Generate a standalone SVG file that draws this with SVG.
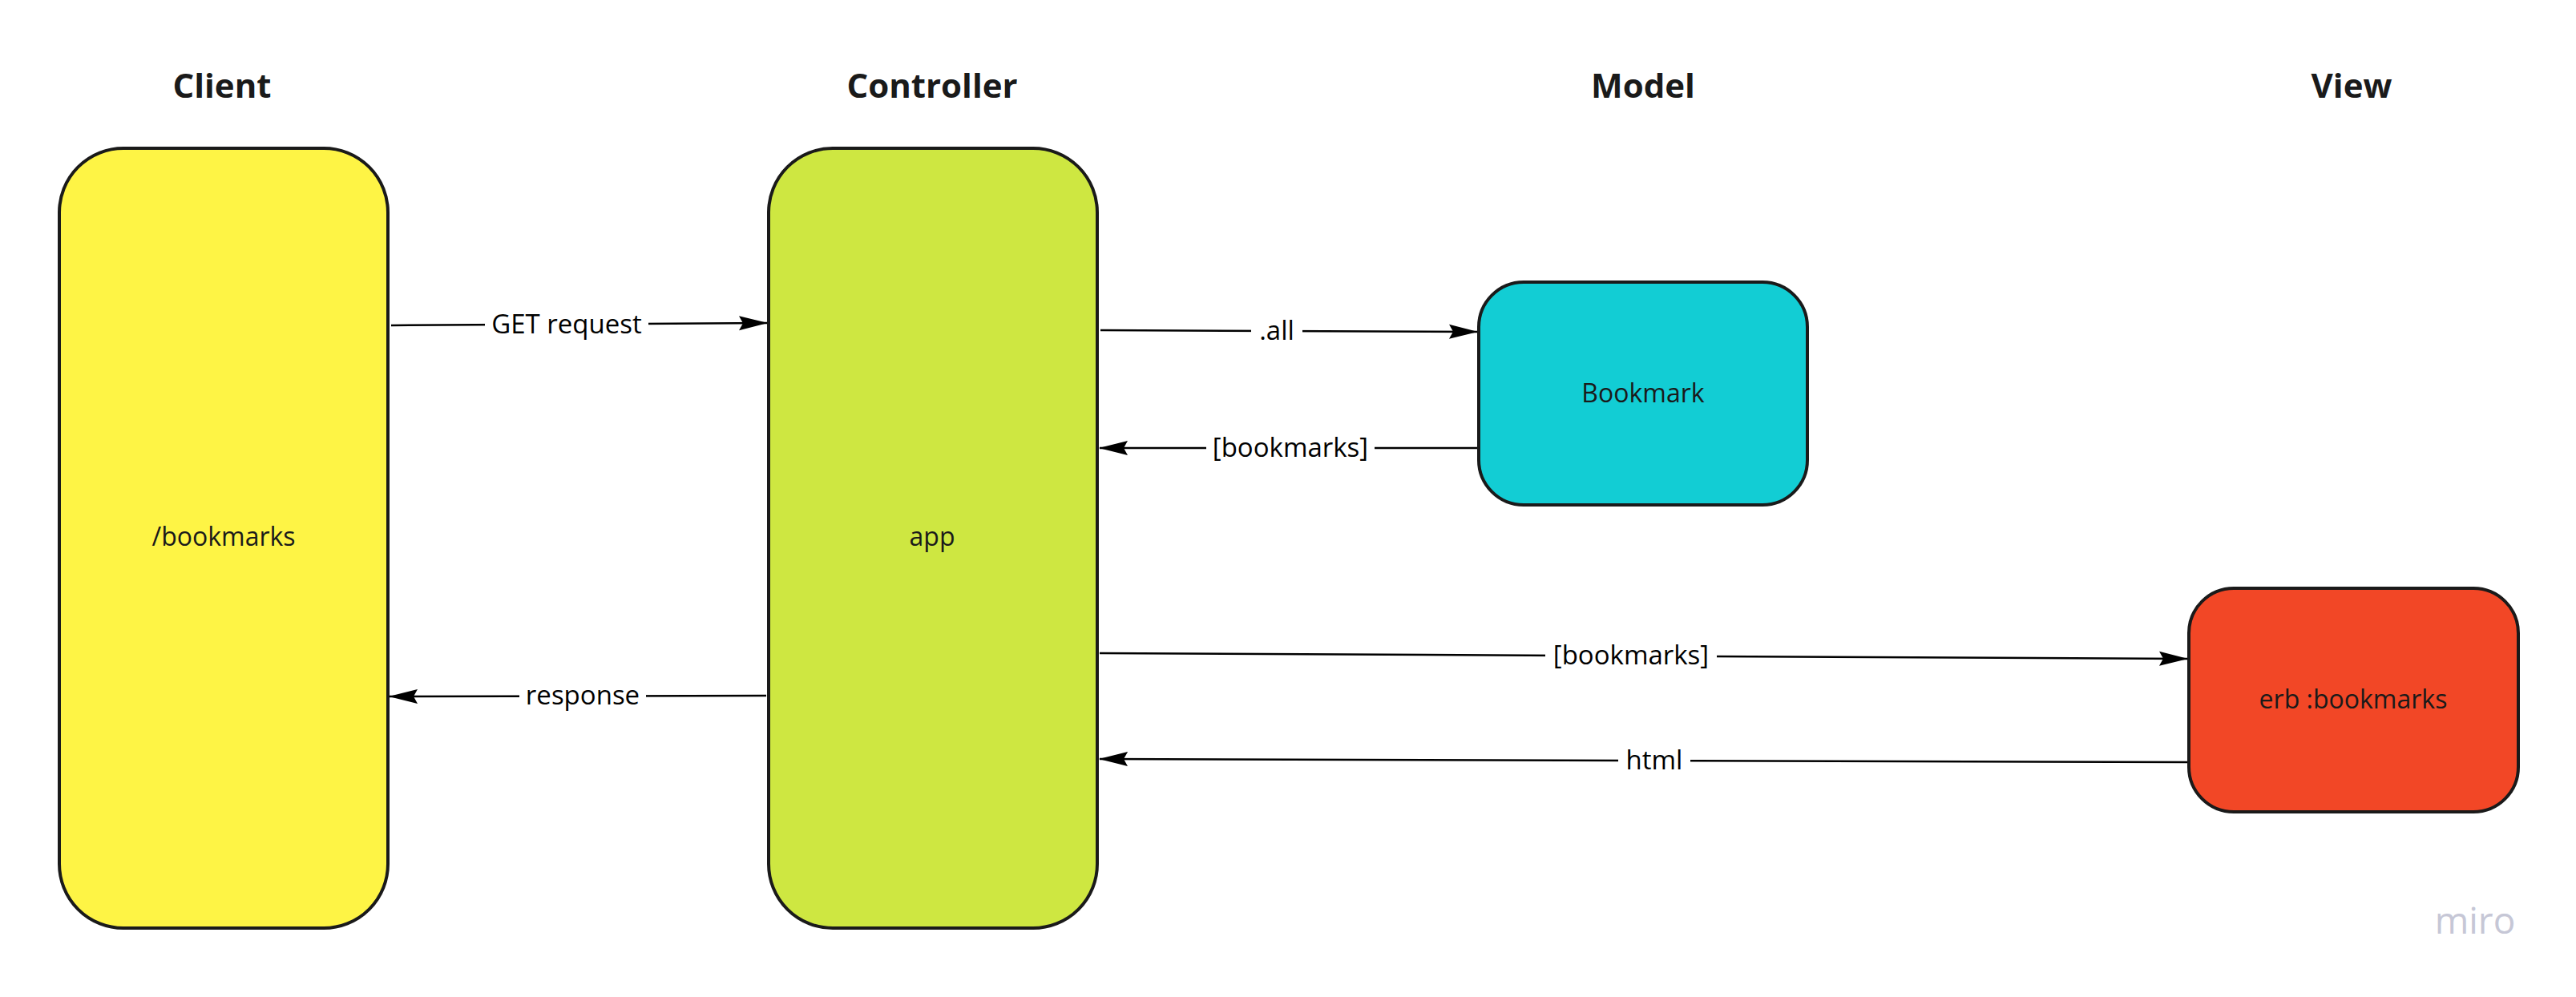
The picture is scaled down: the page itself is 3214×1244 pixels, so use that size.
<svg xmlns="http://www.w3.org/2000/svg" width="3214" height="1244" viewBox="0 0 3214 1244">
<style>
  .hdr { font-family: "Open Sans", "Liberation Sans", sans-serif; font-weight: bold; font-size: 42px; fill: #1a1a1a; text-anchor: middle; }
  .node rect { stroke: #1a1a1a; stroke-width: 4; }
  .nlabel { font-family: "Open Sans", "Liberation Sans", sans-serif; font-size: 32px; fill: #1a1a1a; text-anchor: middle; dominant-baseline: central; }
  .edge { fill: none; stroke: #000; stroke-width: 2.5; marker-end: url(#arrow); }
  .lbg { fill: #fff; }
  .elabel { font-family: "Open Sans", "Liberation Sans", sans-serif; font-size: 33px; fill: #000; text-anchor: middle; dominant-baseline: central; }
  .wm { font-family: "Open Sans", "Liberation Sans", sans-serif; font-size: 46px; fill: #c6c7d6; text-anchor: middle; }
</style>
<defs>
  <marker id="arrow" markerUnits="userSpaceOnUse" markerWidth="36" markerHeight="20" refX="35" refY="10" orient="auto">
    <path d="M0,1 L36,10 L0,19 L5,10 Z" fill="#000"/>
  </marker>
</defs>
<rect width="3214" height="1244" fill="#fff"/>

<g id="headers">
  <text class="hdr" x="277" y="122">Client</text>
  <text class="hdr" x="1163" y="122">Controller</text>
  <text class="hdr" x="2050" y="122">Model</text>
  <text class="hdr" x="2934" y="122">View</text>
</g>

<g id="node-client" class="node">
  <rect x="74" y="185" width="410" height="973" rx="80" ry="80" fill="#fef445"/>
  <text class="nlabel" x="279" y="668">/bookmarks</text>
</g>
<g id="node-controller" class="node">
  <rect x="959" y="185" width="410" height="973" rx="80" ry="80" fill="#cee741"/>
  <text class="nlabel" x="1163" y="668">app</text>
</g>
<g id="node-model" class="node">
  <rect x="1845" y="352" width="410" height="278" rx="56" ry="56" fill="#12cdd4"/>
  <text class="nlabel" x="2050" y="489">Bookmark</text>
</g>
<g id="node-view" class="node">
  <rect x="2731" y="734" width="411" height="279" rx="56" ry="56" fill="#f24726"/>
  <text class="nlabel" x="2936" y="871">erb :bookmarks</text>
</g>

<g id="connectors">
  <g id="e-get">
    <path class="edge" d="M488,406 L957,403"/>
    <rect class="lbg" x="605" y="383" width="204" height="44"/>
    <text class="elabel" x="707" y="403">GET request</text>
  </g>
  <g id="e-all">
    <path class="edge" d="M1373,412 L1843,414"/>
    <rect class="lbg" x="1561" y="391" width="64" height="44"/>
    <text class="elabel" x="1593" y="411">.all</text>
  </g>
  <g id="e-bm-back">
    <path class="edge" d="M1843,559 L1372,559"/>
    <rect class="lbg" x="1505" y="537" width="210" height="44"/>
    <text class="elabel" x="1610" y="557">[bookmarks]</text>
  </g>
  <g id="e-response">
    <path class="edge" d="M956,868 L486,869"/>
    <rect class="lbg" x="648" y="846" width="158" height="44"/>
    <text class="elabel" x="727" y="866">response</text>
  </g>
  <g id="e-bm-fwd">
    <path class="edge" d="M1372,815 L2729,822"/>
    <rect class="lbg" x="1928" y="796" width="214" height="44"/>
    <text class="elabel" x="2035" y="816">[bookmarks]</text>
  </g>
  <g id="e-html">
    <path class="edge" d="M2729,951 L1372,947"/>
    <rect class="lbg" x="2019" y="927" width="90" height="44"/>
    <text class="elabel" x="2064" y="947">html</text>
  </g>
</g>

<text class="wm" x="3088" y="1165">miro</text>
</svg>
